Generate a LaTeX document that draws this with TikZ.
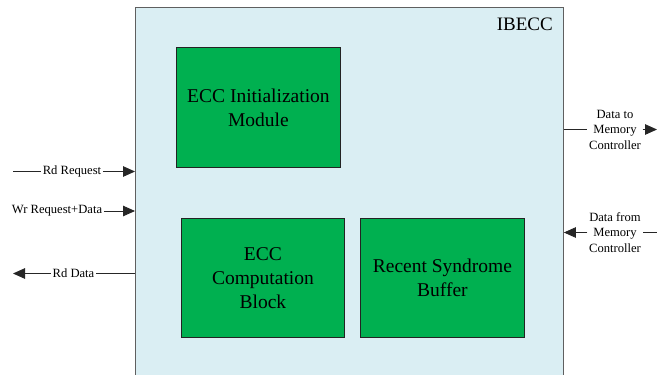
\documentclass[tikz,border=0pt]{standalone}
\usepackage{fontspec}
\setmainfont{Liberation Serif}
\usetikzlibrary{arrows.meta}

\definecolor{blockgreen}{RGB}{0,176,80}
\definecolor{panelblue}{RGB}{218,238,243}
\definecolor{panelline}{RGB}{95,95,95}
\definecolor{blockline}{RGB}{35,35,35}

\tikzset{
  panel/.style={draw=panelline, line width=0.9pt, fill=panelblue, inner sep=0pt},
  block/.style={draw=blockline, line width=0.9pt, fill=blockgreen, inner sep=0pt,
    align=center, font=\fontsize{19.5}{24}\selectfont},
  sig/.style={font=\fontsize{12.6}{15.5}\selectfont, inner sep=1.5pt, align=center},
  wire/.style={draw=black!85, line width=0.9pt},
  tip/.style={-{Triangle[length=12pt,width=10.5pt]}},
}

\begin{document}
\begin{tikzpicture}[x=1pt,y=-1pt]
  \useasboundingbox (0,0) rectangle (657,375);
  \fill[white] (0,0) rectangle (657,375);

  % IBECC panel (runs past the lower edge)
  \node[panel, anchor=north west, minimum width=428pt, minimum height=400pt] (main) at (135,7) {};
  \node[anchor=base east, inner sep=0pt, font=\fontsize{19}{22}\selectfont] (title) at (553,30.5) {IBECC};

  % functional blocks
  \node[block, anchor=north west, minimum width=164pt, minimum height=120pt] (init) at (176,47)
    {ECC Initialization\\Module};
  \node[block, anchor=north west, minimum width=163pt, minimum height=119pt] (comp) at (181,218)
    {ECC\\Computation\\Block};
  \node[block, anchor=north west, minimum width=164pt, minimum height=119pt] (synd) at (360,218)
    {Recent Syndrome\\Buffer};

  % host-side signals
  \coordinate (rdreq-in) at (13,171.5);
  \node[sig] (rdreq) at (72,171.5) {Rd Request};
  \draw[wire] (rdreq-in) -- (rdreq.west);
  \draw[wire, tip] (rdreq.east) -- (main.west |- rdreq);

  \node[sig] (wrreq) at (57,211) {Wr Request+Data};
  \draw[wire, tip] (wrreq.east) -- (main.west |- wrreq);

  \coordinate (rddata-out) at (13,273.5);
  \node[sig] (rddata) at (73.5,273.5) {Rd Data};
  \draw[wire] (main.west |- rddata) -- (rddata.east);
  \draw[wire, tip] (rddata.west) -- (rddata-out);

  % memory-controller side signals
  \coordinate (tomc-out) at (657,129.5);
  \node[sig] (tomc) at (615,129.5) {Data to\\Memory\\Controller};
  \draw[wire] (main.east |- tomc) -- (tomc.west);
  \draw[wire, tip] (tomc.east) -- (tomc-out);

  \coordinate (frommc-in) at (657,232.5);
  \node[sig] (frommc) at (615,232.5) {Data from\\Memory\\Controller};
  \draw[wire] (frommc-in) -- (frommc.east);
  \draw[wire, tip] (frommc.west) -- (main.east |- frommc);
\end{tikzpicture}
\end{document}
